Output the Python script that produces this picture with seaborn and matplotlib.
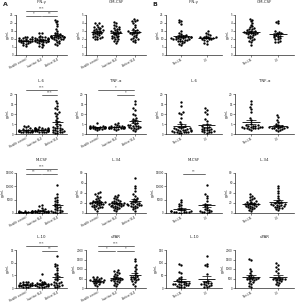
import numpy as np
import pandas as pd
import matplotlib
matplotlib.use("Agg")
import matplotlib.pyplot as plt
import seaborn as sns

sns.set_style("ticks")
plt.rcParams['font.family'] = ['DejaVu Sans']

groups_a = ["Health control", "Inactive SLE", "Active SLE"]
groups_b = ["Non-LN", "LN"]
titles = ["IFN-γ", "GM-CSF", "IL-6", "TNF-α", "M-CSF", "IL-34", "IL-10", "uPAR"]

# ---- IFN-gamma ----
ifn_hc = [5.5, 6, 7.5, 8, 8, 8.5, 8.5, 9, 9, 9, 9.5, 9.5, 10, 10, 10.5, 10.5, 11, 11, 11.5, 7, 7.5, 10]
ifn_inact = [5, 5.5, 6, 7, 7.5, 8, 8, 8.5, 8.5, 9, 9, 9, 9.5, 9.5, 10, 10, 10, 10.5, 10.5, 11, 11, 11.5, 12, 13.5, 14, 8, 9.5, 10]
ifn_act = [6.5, 7, 7.5, 8, 9, 9.5, 10, 10, 10.5, 10.5, 11, 11, 11, 11.5, 11.5, 12, 12, 12, 12.5, 13, 13.5, 14, 15, 16, 18, 19.5, 20.5, 21.5, 22, 10, 11, 12]
ifn_nonln = [6, 7, 7.5, 8, 8.5, 9, 9, 9.5, 9.5, 10, 10, 10, 10.5, 10.5, 11, 11, 11, 11.5, 11.5, 12, 12, 12.5, 13, 14, 15, 19.5, 20.5, 21.5, 22, 10, 11, 10.5]
ifn_ln = [7, 7.5, 9, 9.5, 10, 10, 10.5, 10.5, 11, 11, 11.5, 12, 12.5, 13, 14, 15, 10, 11]

# ---- GM-CSF ----
gm_hc = [2, 2, 2.1, 2.2, 2.3, 2.4, 2.5, 2.6, 2.7, 2.8, 2.8, 2.9, 3, 3, 3.1, 3.2, 3.3, 3.4, 3.5, 3.5, 3.6, 3.8, 4, 4, 2.2, 2.6, 3.1]
gm_inact = [1.5, 1.7, 1.8, 2, 2, 2.1, 2.2, 2.3, 2.4, 2.5, 2.6, 2.7, 2.8, 2.9, 3, 3, 3.1, 3.2, 3.3, 3.4, 3.5, 3.6, 3.8, 4, 4.1, 2.4, 2.9]
gm_act = [1.6, 1.8, 1.9, 2, 2, 2.1, 2.2, 2.4, 2.6, 2.7, 2.8, 2.8, 2.9, 3, 3, 3.1, 3.2, 3.5, 3.8, 4, 4.2, 4.3, 4.4, 4.5, 2.5, 2.9]
gm_nonln = [1.3, 1.6, 1.8, 1.9, 2, 2.1, 2.2, 2.3, 2.4, 2.5, 2.6, 2.7, 2.7, 2.8, 2.8, 2.9, 3, 3, 3.1, 3.2, 3.3, 3.4, 3.5, 3.6, 3.8, 4, 4.2, 4.4, 4.5, 2.6, 2.9]
gm_ln = [1.6, 1.6, 1.7, 2, 2, 2.1, 2.2, 2.3, 2.4, 2.5, 2.6, 2.7, 2.8, 2.9, 3, 4, 4.1, 4.3, 2.5]

# ---- IL-6 ----
il6_hc = [0.8, 1, 1, 1.2, 1.2, 1.3, 1.5, 1.5, 1.6, 1.8, 2, 2, 2.2, 2.5, 3, 3.5, 4, 4.2, 1.1, 1.4, 1.7]
il6_inact = [0.8, 1, 1.2, 1.3, 1.5, 1.6, 1.8, 2, 2, 2.1, 2.2, 2.3, 2.5, 2.6, 2.8, 3, 3, 3.2, 3.4, 1.4, 1.9, 2.4, 2.7, 1.1]
il6_act = [0.3, 0.5, 0.8, 1, 1.2, 1.5, 1.8, 2, 2.2, 2.5, 3, 3.2, 3.5, 4, 4.5, 5, 6, 7, 8, 9, 10, 10.5, 11, 12.5, 13, 14, 15.5, 16.5, 1.3, 2.8]
il6_nonln = [0.3, 0.5, 0.8, 1, 1, 1.2, 1.4, 1.5, 1.8, 2, 2, 2.2, 2.5, 2.8, 3, 3, 3.3, 3.6, 4, 5, 6, 8, 10, 10.5, 11, 14, 16, 1.1, 1.7, 2.4]
il6_ln = [0.5, 0.8, 1, 1.2, 1.5, 1.8, 2, 2.2, 2.5, 3, 3.2, 3.5, 4, 5, 6.5, 7.5, 10, 11, 12, 13, 1.3, 2.7]

# ---- TNF-alpha ----
tnf_hc = [2, 2.3, 2.5, 2.7, 2.8, 3, 3, 3.1, 3.2, 3.3, 3.4, 3.5, 3.6, 3.8, 4, 4.2, 5.5, 2.9, 3.3]
tnf_inact = [2.2, 2.5, 2.7, 2.8, 3, 3, 3.2, 3.3, 3.4, 3.5, 3.6, 3.8, 4, 4.2, 4.5, 5, 5.5, 3.1, 3.7, 2.9]
tnf_act = [1.5, 2, 2.5, 2.8, 3, 3.2, 3.5, 3.8, 4, 4.3, 4.5, 5, 5.5, 6, 7, 7.5, 8, 9.5, 10, 12, 13, 15, 16.5, 3.3, 4.1]
tnf_nonln = [2, 2.5, 2.8, 3, 3, 3.2, 3.4, 3.5, 3.6, 3.8, 4, 4.2, 4.5, 5, 7, 8, 11, 12.5, 13.5, 15, 16.5, 3.1, 3.7, 4.4]
tnf_ln = [1.5, 2, 2.2, 2.5, 2.8, 3, 3.2, 3.4, 3.6, 3.8, 4, 4.5, 5, 6, 7, 8.5, 9.5, 2.9, 3.3]

# ---- M-CSF ----
mcsf_hc = [100, 150, 200, 250, 300, 350, 400, 450, 500, 600, 700, 800, 900, 200, 300]
mcsf_inact = [100, 150, 200, 300, 400, 500, 600, 700, 800, 900, 1000, 1200, 1500, 2000, 2500, 3000, 300, 500]
mcsf_act = [100, 200, 300, 500, 800, 1000, 1500, 2000, 2500, 3000, 3500, 4000, 4500, 5000, 5500, 6000, 7000, 10500, 600, 1200, 2200]
mcsf_nonln = [100, 150, 200, 300, 400, 500, 600, 800, 1000, 1200, 1500, 2000, 2500, 3000, 3500, 4000, 5000, 300, 700]
mcsf_ln = [100, 200, 300, 500, 800, 1000, 1500, 2000, 2500, 3000, 3500, 4500, 5500, 6500, 7000, 10500, 600, 1200]

# ---- IL-34 ----
il34_hc = [5, 8, 10, 12, 13, 14, 15, 16, 17, 18, 19, 20, 20, 21, 22, 23, 24, 25, 26, 28, 30, 32, 35, 38, 40, 42, 12, 18, 22]
il34_inact = [4, 6, 8, 10, 11, 12, 13, 14, 15, 16, 17, 18, 18, 19, 20, 21, 22, 23, 24, 25, 26, 28, 30, 32, 35, 37, 14, 17, 20]
il34_act = [5, 8, 10, 12, 13, 14, 15, 16, 17, 18, 19, 20, 21, 22, 24, 26, 28, 30, 35, 38, 45, 50, 55, 70, 16, 18]
il34_nonln = [4, 6, 8, 10, 11, 12, 13, 14, 15, 16, 17, 18, 19, 20, 21, 22, 23, 24, 26, 28, 30, 32, 35, 38, 14, 18]
il34_ln = [6, 8, 10, 11, 12, 13, 14, 15, 16, 17, 18, 19, 20, 22, 24, 26, 30, 35, 40, 45, 50, 55, 16, 20]

# ---- IL-10 ----
il10_hc = [0.2, 0.3, 0.5, 0.6, 0.8, 1, 1, 1.2, 1.4, 1.5, 1.6, 1.8, 2, 2.2, 2.4, 2.5, 0.7, 1.1]
il10_inact = [0.2, 0.4, 0.5, 0.7, 0.8, 1, 1.1, 1.2, 1.3, 1.5, 1.6, 1.8, 2, 2.2, 2.5, 3, 5.5, 0.9, 1.4]
il10_act = [0.2, 0.5, 0.8, 1, 1.2, 1.5, 1.8, 2, 2.5, 3, 3.5, 4, 5, 5.5, 6, 7, 8, 8.5, 9, 9.5, 12.5, 1.3, 2.2]
il10_nonln = [2, 4, 5, 8, 10, 12, 14, 15, 16, 18, 20, 22, 25, 28, 30, 35, 40, 45, 60, 65, 90, 95, 10, 17]
il10_ln = [2, 5, 8, 10, 12, 15, 18, 20, 22, 25, 28, 55, 85, 90, 95, 125, 14]

# ---- uPAR ----
upar_hc = [100, 150, 200, 250, 300, 300, 350, 350, 400, 400, 450, 500, 500, 550, 600, 600, 250, 380]
upar_inact = [100, 150, 200, 250, 300, 350, 400, 400, 450, 500, 500, 550, 600, 650, 700, 750, 800, 850, 900, 950, 350, 480]
upar_act = [100, 200, 300, 350, 400, 450, 500, 550, 600, 650, 700, 800, 900, 1000, 1100, 1200, 1400, 1550, 450, 580]
upar_nonln = [50, 100, 200, 250, 300, 350, 400, 450, 500, 500, 550, 600, 650, 700, 800, 900, 1000, 1500, 1550, 450, 520]
upar_ln = [150, 200, 250, 300, 350, 400, 450, 450, 500, 500, 550, 600, 800, 900, 1000, 1100, 1200, 1300, 400, 480]

yticks_a = [[0, 5, 10, 15, 20, 25], [0, 1, 2, 3, 4, 5], [0, 5, 10, 15, 20], [0, 5, 10, 15, 20],
            [0, 5000, 10000, 15000], [0, 20, 40, 60, 80], [0, 5, 10, 15], [0, 500, 1000, 1500, 2000]]
yticks_b = [[0, 5, 10, 15, 20, 25], [0, 1, 2, 3, 4, 5], [0, 5, 10, 15, 20], [0, 5, 10, 15, 20],
            [0, 5000, 10000, 15000], [0, 20, 40, 60, 80], [0, 50, 100, 150], [0, 500, 1000, 1500, 2000]]

data_a = [[ifn_hc, ifn_inact, ifn_act], [gm_hc, gm_inact, gm_act], [il6_hc, il6_inact, il6_act],
          [tnf_hc, tnf_inact, tnf_act], [mcsf_hc, mcsf_inact, mcsf_act], [il34_hc, il34_inact, il34_act],
          [il10_hc, il10_inact, il10_act], [upar_hc, upar_inact, upar_act]]
data_b = [[ifn_nonln, ifn_ln], [gm_nonln, gm_ln], [il6_nonln, il6_ln], [tnf_nonln, tnf_ln],
          [mcsf_nonln, mcsf_ln], [il34_nonln, il34_ln], [il10_nonln, il10_ln], [upar_nonln, upar_ln]]

# significance: (i, j, level(0 low / 1 top), label)
sig_a = [[(0, 2, 1, "***"), (0, 1, 0, "*"), (1, 2, 0, "**")], [],
         [(0, 2, 1, "***"), (1, 2, 0, "***")], [(0, 2, 1, "*"), (1, 2, 0, "*")],
         [(0, 2, 1, "***"), (0, 1, 0, "**"), (1, 2, 0, "***")], [],
         [(0, 2, 1, "***"), (1, 2, 0, "**")], [(0, 2, 1, "***"), (0, 1, 0, "*"), (1, 2, 0, "*")]]
sig_b = [[], [], [], [], [(0, 1, 0, "**")], [], [], []]

W, H = 300, 306
fig = plt.figure(figsize=(W / 100, H / 100), dpi=100)

cols = [(16, 67), (86, 146), (166, 222), (235, 294)]
rows = [(15, 55), (94, 134), (173, 213), (250, 288)]


def make_ax(c, r):
    x0, x1 = cols[c]
    y0, y1 = rows[r]
    return fig.add_axes([x0 / W, 1 - y1 / H, (x1 - x0) / W, (y1 - y0) / H])


def draw(ax, groups, lists, title, yt, sigs):
    df = pd.DataFrame({"group": np.concatenate([[g] * len(v) for g, v in zip(groups, lists)]),
                       "value": np.concatenate(lists)})
    ax.set_ylim(0, yt[-1])
    ax.set_xlim(-0.6, len(groups) - 0.4)
    sns.swarmplot(data=df, x="group", y="value", order=groups, ax=ax, color="black",
                  size=1.7, linewidth=0, warn_thresh=1)
    for i, v in enumerate(lists):
        m = np.mean(v)
        se = np.std(v, ddof=1) / np.sqrt(len(v))
        ax.hlines(m, i - 0.33, i + 0.33, color="black", lw=0.6, zorder=5)
        ax.hlines([m - se, m + se], i - 0.18, i + 0.18, color="black", lw=0.5, zorder=5)
        ax.vlines(i, m - se, m + se, color="black", lw=0.5, zorder=5)
    ax.set_xlim(-0.6, len(groups) - 0.4)
    ax.set_ylim(0, yt[-1])
    ax.set_yticks(yt)
    ax.set_yticklabels([str(t) for t in yt])
    ax.set_xticks(range(len(groups)))
    ax.set_xticklabels(groups, rotation=28, ha="right", rotation_mode="anchor")
    ax.set_xlabel("")
    ax.set_ylabel("pg/mL", fontsize=2.1, labelpad=0.6)
    ax.set_title(title, fontsize=2.8, pad=8.5)
    ax.tick_params(labelsize=2.0, length=1.2, width=0.4, pad=0.5)
    for s in ["top", "right"]:
        ax.spines[s].set_visible(False)
    for s in ["left", "bottom"]:
        ax.spines[s].set_linewidth(0.5)
    for (i, j, lev, lab) in sigs:
        yy = 1.1 if lev == 1 else 0.97
        ax.plot([i + 0.05, j - 0.05], [yy, yy], transform=ax.get_xaxis_transform(),
                color="#555555", lw=0.6, clip_on=False)
        ax.text((i + j) / 2, yy + 0.01, lab, transform=ax.get_xaxis_transform(),
                ha="center", va="bottom", fontsize=2.6, color="#333333")


for k in range(8):
    r, c = k // 2, k % 2
    draw(make_ax(c, r), groups_a, data_a[k], titles[k], yticks_a[k], sig_a[k])
    draw(make_ax(c + 2, r), groups_b, data_b[k], titles[k], yticks_b[k], sig_b[k])

fig.text(3 / W, 1 - 2 / H, "A", fontsize=4.5, fontweight="bold", va="top", ha="left")
fig.text(152 / W, 1 - 2 / H, "B", fontsize=4.5, fontweight="bold", va="top", ha="left")

fig.savefig("out.png", dpi=100)
